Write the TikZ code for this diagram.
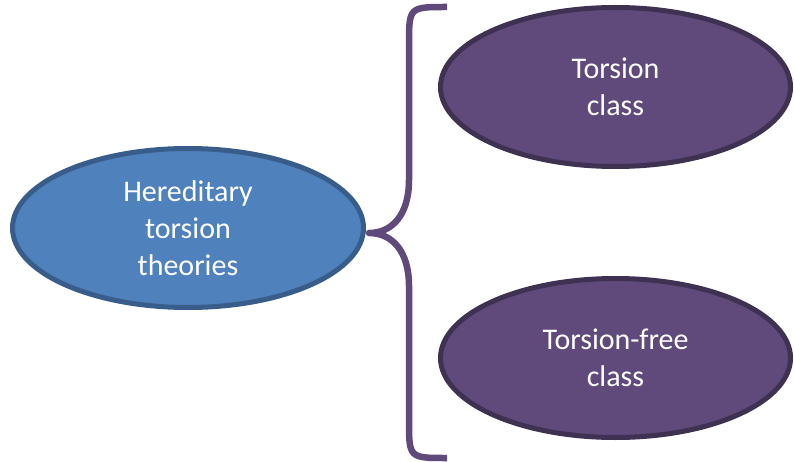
\documentclass[tikz,border=0pt]{standalone}
\usepackage{fontspec}
\setmainfont{Carlito}
\usepackage{xcolor}
\usepackage{tikz}
\usetikzlibrary{shapes.geometric, arrows}
\definecolor{hblue}{HTML}{4F81BD}
\definecolor{hblueline}{HTML}{385D8A}
\definecolor{cpurple}{HTML}{604A7B}
\definecolor{cpurpleline}{HTML}{3F3151}
\tikzstyle{blob} = [ellipse, line width=5pt, text=white, align=center, font=\fontsize{30}{37}\selectfont]
\tikzstyle{theory} = [blob, fill=hblue, draw=hblueline, minimum width=351pt, minimum height=159pt]
\tikzstyle{cls} = [blob, fill=cpurple, draw=cpurpleline, minimum width=350pt, minimum height=159pt]
\tikzstyle{brace} = [line width=6.5pt, draw=cpurple, line cap=butt, line join=round]

\begin{document}
\begin{tikzpicture}[x=1pt, y=-1pt]
                    \useasboundingbox (0, 0) rectangle (794, 462);
                    \node [theory] (hts) at (188, 228) {Hereditary\\torsion\\theories};
                    \node [cls] (tc) at (615.5, 87) {Torsion\\class};
                    \node [cls] (tfc) at (615.5, 358) {Torsion-free\\class};
                    \coordinate (btop) at (447, 7);
                    \coordinate (btip) at (369, 233);
                    \coordinate (bbot) at (447, 458);
                    % the brace
                    \draw [brace] (btop) .. controls (409, 7) .. (409, 45) -- (409, 180)
                        .. controls (409, 215) and (392, 233) .. (btip)
                        .. controls (392, 233) and (409, 251) .. (409, 286) -- (409, 420)
                        .. controls (409, 458) .. (bbot);
                \end{tikzpicture}
\end{document}
